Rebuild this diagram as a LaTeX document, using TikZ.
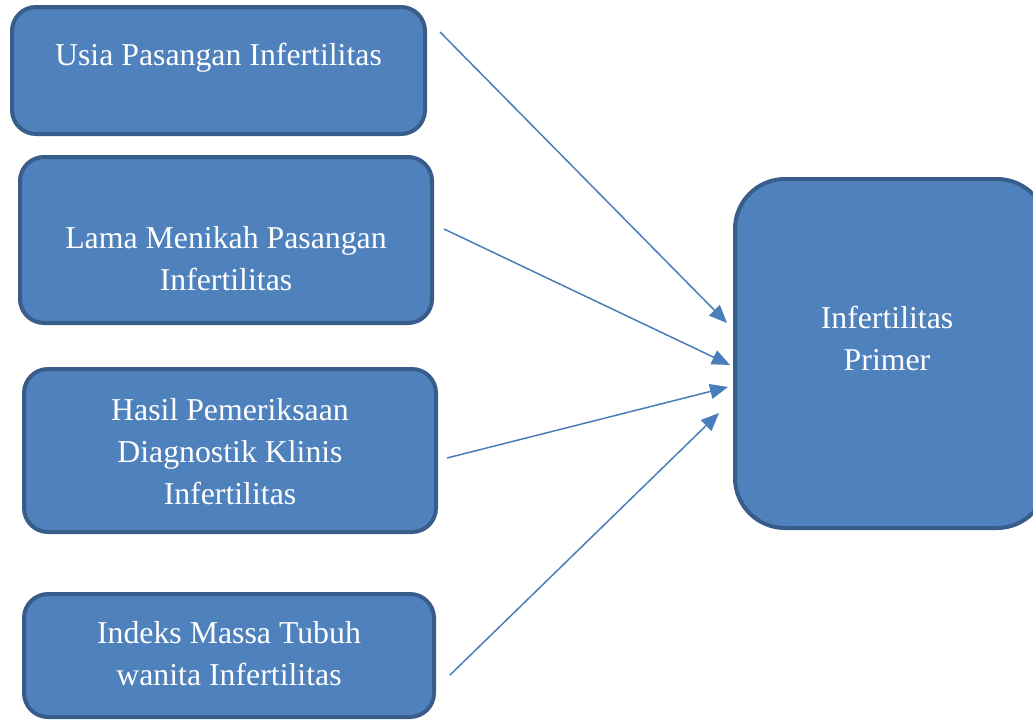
\documentclass[tikz,border=0pt]{standalone}
\usepackage{fontspec}
\setmainfont{Liberation Serif}
\usetikzlibrary{arrows.meta}
\definecolor{boxfill}{HTML}{4F81BD}
\definecolor{boxline}{HTML}{385D8A}
\definecolor{arrowcol}{HTML}{4A7EBB}
\begin{document}
\begin{tikzpicture}[x=1pt,y=-1pt,
  boxnode/.style={draw=boxline, fill=boxfill, line width=4pt, rectangle, rounded corners=24pt, inner sep=0pt, outer sep=0pt},
  txt/.style={text=white, align=center, inner sep=0pt, font=\fontsize{31.8}{42}\selectfont},
  conn/.style={draw=arrowcol, line width=1.5pt, -{Triangle[length=18pt,width=15pt]}}]
\useasboundingbox (0,0) rectangle (1033,721);
\begin{scope}
\clip (0,0) rectangle (1033,721);
\node[boxnode, minimum width=413pt, minimum height=127pt] (b1) at (218.5,70.5) {};
\node[boxnode, minimum width=412pt, minimum height=166pt] (b2) at (226,240) {};
\node[boxnode, minimum width=412pt, minimum height=163pt] (b3) at (230,450.5) {};
\node[boxnode, minimum width=410pt, minimum height=123pt] (b4) at (229,655.5) {};
\node[boxnode, minimum width=312pt, minimum height=349pt, rounded corners=50pt] (b5) at (891,353.5) {};
\end{scope}
\node[txt] (t1) at (218.5,58) {Usia Pasangan Infertilitas};
\node[txt] (t2) at (226,259) {Lama Menikah Pasangan\\Infertilitas};
\node[txt] (t3) at (230,452) {Hasil Pemeriksaan\\Diagnostik Klinis\\Infertilitas};
\node[txt] (t4) at (229,654) {Indeks Massa Tubuh\\wanita Infertilitas};
\node[txt] (t5) at (887,338) {Infertilitas\\Primer};
\coordinate (s1) at (440,32);
\coordinate (e1) at (727,323);
\coordinate (s2) at (444,229);
\coordinate (e2) at (730,365);
\coordinate (s3) at (447,458);
\coordinate (e3) at (728,387);
\coordinate (s4) at (450,675);
\coordinate (e4) at (719,413);
\draw[conn] (s1) -- (e1);
\draw[conn] (s2) -- (e2);
\draw[conn] (s3) -- (e3);
\draw[conn] (s4) -- (e4);
\end{tikzpicture}
\end{document}
